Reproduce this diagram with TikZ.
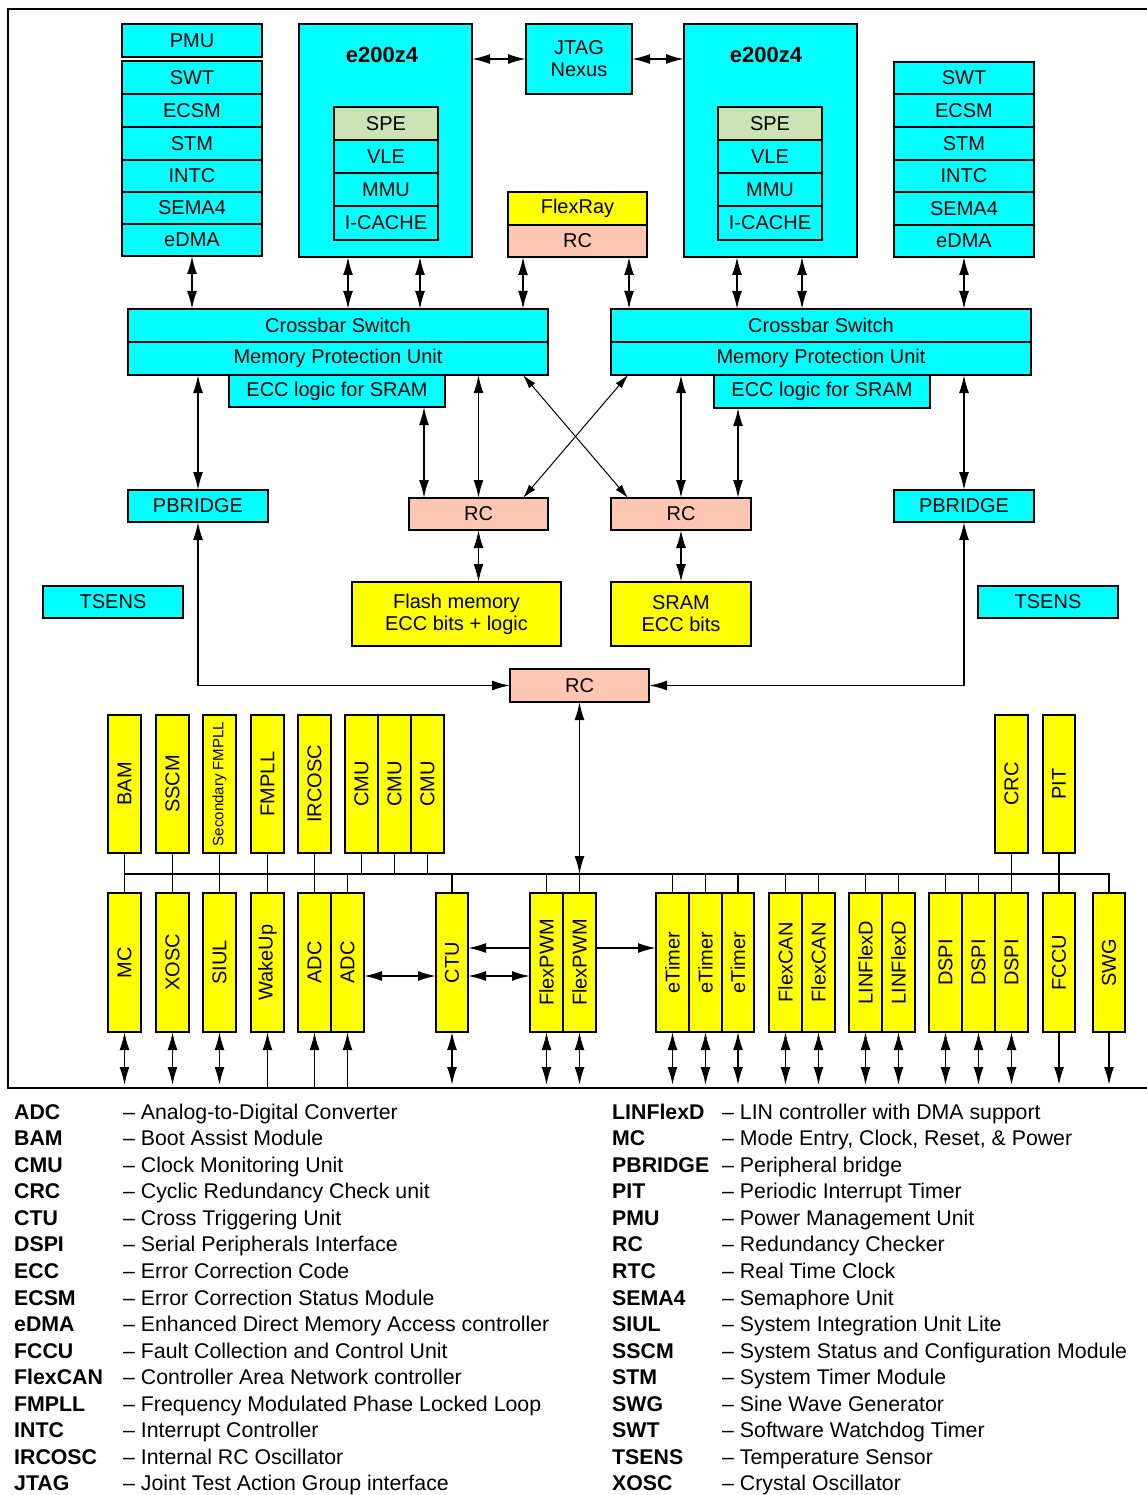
\documentclass[tikz,border=0pt]{standalone}
\usepackage{fontspec}
\setmainfont{Liberation Sans}
\usepackage{graphicx}
\usetikzlibrary{arrows.meta}
\definecolor{cyanc}{HTML}{00FFFF}
\definecolor{yel}{HTML}{FFFF00}
\definecolor{rcc}{HTML}{FFC6B2}
\definecolor{spe}{HTML}{CCE4B4}
\newcommand\modbox[7]{\node[box,fill=#2,minimum width={(#5)-(#3)},minimum height={(#6)-(#4)}] (#1) at ({((#3)+(#5))/2},{((#4)+(#6))/2}) {#7};}
\newcommand\rotmod[7]{\modbox{#1}{#2}{#3}{#4}{#5}{#6}{\rotatebox{90}{#7}}}
\begin{document}
\begin{tikzpicture}[x=1pt,y=-1pt,
  >={Latex[length=18pt,width=10pt]},
  box/.style={draw,line width=1.9pt,inner sep=0pt,outer sep=0pt,align=center,font=\fontsize{20}{23}\selectfont},
  dar/.style={<->,line width=1.7pt},
  sar/.style={->,line width=1.7pt},
  tar/.style={{Latex[length=14pt,width=8pt]}-{Latex[length=14pt,width=8pt]},line width=1pt},
  bus/.style={line width=1.7pt},
  title/.style={font=\bfseries\fontsize{22}{25}\selectfont},
  lab/.style={anchor=base west,inner sep=0pt,font=\bfseries\fontsize{21.3}{24}\selectfont},
  desc/.style={anchor=base west,inner sep=0pt,font=\fontsize{21.3}{24}\selectfont}]
\useasboundingbox (0,0) rectangle (1147,1495);
\draw[line width=2pt] (1147,9) -- (8,9) -- (8,1088) -- (1147,1088);
% helper x/y coordinates
\foreach \x in {348,420,424,523,628,629,737,738,802} \coordinate (c\x) at (\x,0);
\coordinate (bot) at (0,1085);
\coordinate (bot2) at (0,1087);
% top left stack
\modbox{pmu}{cyanc}{122}{24}{262}{57}{PMU}
\modbox{ls1}{cyanc}{122}{61}{262}{94}{SWT}
\modbox{ls2}{cyanc}{122}{94}{262}{127}{ECSM}
\modbox{ls3}{cyanc}{122}{127}{262}{160}{STM}
\modbox{ls4}{cyanc}{122}{160}{262}{192}{INTC}
\modbox{ls5}{cyanc}{122}{192}{262}{224}{SEMA4}
\modbox{ls6}{cyanc}{122}{224}{262}{256}{eDMA}
% core 1
\modbox{e1}{cyanc}{299}{24}{472}{257}{}
\node[title] (e1t) at (382,55) {e200z4};
\modbox{sp1}{spe}{334}{107}{438}{140}{SPE}
\modbox{vl1}{cyanc}{334}{140}{438}{173}{VLE}
\modbox{mm1}{cyanc}{334}{173}{438}{206}{MMU}
\modbox{ic1}{cyanc}{334}{206}{438}{240}{I-CACHE}
% JTAG
\modbox{jtag}{cyanc}{526}{24}{632}{94}{JTAG\\[-1pt]Nexus}
% core 2
\modbox{e2}{cyanc}{684}{24}{857}{257}{}
\node[title] (e2t) at (766,55) {e200z4};
\modbox{sp2}{spe}{718}{107}{822}{140}{SPE}
\modbox{vl2}{cyanc}{718}{140}{822}{173}{VLE}
\modbox{mm2}{cyanc}{718}{173}{822}{206}{MMU}
\modbox{ic2}{cyanc}{718}{206}{822}{240}{I-CACHE}
% right stack
\modbox{rs1}{cyanc}{894}{62}{1034}{94}{SWT}
\modbox{rs2}{cyanc}{894}{94}{1034}{127}{ECSM}
\modbox{rs3}{cyanc}{894}{127}{1034}{160}{STM}
\modbox{rs4}{cyanc}{894}{160}{1034}{192}{INTC}
\modbox{rs5}{cyanc}{894}{192}{1034}{225}{SEMA4}
\modbox{rs6}{cyanc}{894}{225}{1034}{257}{eDMA}
% FlexRay
\modbox{fr}{yel}{508}{192}{647}{225}{FlexRay}
\modbox{frc}{rcc}{508}{225}{647}{257}{RC}
% crossbars
\modbox{xb1}{cyanc}{128}{309}{548}{342}{Crossbar Switch}
\modbox{mpu1}{cyanc}{128}{342}{548}{375}{Memory Protection Unit}
\modbox{ecc1}{cyanc}{229}{375}{445}{407}{ECC logic for SRAM}
\modbox{xb2}{cyanc}{611}{309}{1031}{342}{Crossbar Switch}
\modbox{mpu2}{cyanc}{611}{342}{1031}{375}{Memory Protection Unit}
\modbox{ecc2}{cyanc}{714}{375}{930}{408}{ECC logic for SRAM}
% bridges, RCs, memories
\modbox{pb1}{cyanc}{128}{490}{268}{522}{PBRIDGE}
\modbox{pb2}{cyanc}{894}{490}{1034}{522}{PBRIDGE}
\modbox{rc1}{rcc}{409}{498}{548}{530}{RC}
\modbox{rc2}{rcc}{611}{498}{751}{530}{RC}
\modbox{flash}{yel}{352}{582}{561}{646}{Flash memory\\[-1pt]ECC bits + logic}
\modbox{sram}{yel}{611}{582}{751}{646}{SRAM\\[-1pt]ECC bits}
\modbox{ts1}{cyanc}{43}{586}{183}{618}{TSENS}
\modbox{ts2}{cyanc}{978}{586}{1118}{618}{TSENS}
\modbox{rc3}{rcc}{510}{669}{649}{702}{RC}
% top peripheral row
\rotmod{bam}{yel}{108}{715}{141}{853}{BAM}
\rotmod{sscm}{yel}{156}{715}{189}{853}{SSCM}
\modbox{sfm}{yel}{203}{715}{236}{853}{\rotatebox{90}{\fontsize{15}{18}\selectfont Secondary FMPLL}}
\rotmod{fmpll}{yel}{251}{715}{284}{853}{FMPLL}
\rotmod{irc}{yel}{298}{715}{331}{853}{IRCOSC}
\rotmod{cmu1}{yel}{345}{715}{378}{853}{CMU}
\rotmod{cmu2}{yel}{378}{715}{411}{853}{CMU}
\rotmod{cmu3}{yel}{411}{715}{444}{853}{CMU}
\rotmod{crc}{yel}{995}{715}{1028}{853}{CRC}
\rotmod{pit}{yel}{1043}{715}{1075}{853}{PIT}
% bottom peripheral row
\rotmod{mc}{yel}{108}{893}{141}{1032}{MC}
\rotmod{xosc}{yel}{156}{893}{189}{1032}{XOSC}
\rotmod{siul}{yel}{203}{893}{236}{1032}{SIUL}
\rotmod{wake}{yel}{251}{893}{284}{1032}{WakeUp}
\rotmod{adc1}{yel}{298}{893}{331}{1032}{ADC}
\rotmod{adc2}{yel}{331}{893}{364}{1032}{ADC}
\rotmod{ctu}{yel}{436}{893}{468}{1032}{CTU}
\rotmod{fpwm1}{yel}{530}{893}{563}{1032}{FlexPWM}
\rotmod{fpwm2}{yel}{563}{893}{596}{1032}{FlexPWM}
\rotmod{et1}{yel}{656}{893}{689}{1032}{eTimer}
\rotmod{et2}{yel}{689}{893}{722}{1032}{eTimer}
\rotmod{et3}{yel}{722}{893}{754}{1032}{eTimer}
\rotmod{fc1}{yel}{769}{893}{802}{1032}{FlexCAN}
\rotmod{fc2}{yel}{802}{893}{835}{1032}{FlexCAN}
\rotmod{lf1}{yel}{849}{893}{882}{1032}{LINFlexD}
\rotmod{lf2}{yel}{882}{893}{915}{1032}{LINFlexD}
\rotmod{ds1}{yel}{929}{893}{962}{1032}{DSPI}
\rotmod{ds2}{yel}{962}{893}{995}{1032}{DSPI}
\rotmod{ds3}{yel}{995}{893}{1028}{1032}{DSPI}
\rotmod{fccu}{yel}{1043}{893}{1075}{1032}{FCCU}
\rotmod{swg}{yel}{1093}{893}{1125}{1032}{SWG}
% upper arrows
\draw[dar] (e1.east |- jtag.west) -- (jtag.west);
\draw[dar] (jtag.east) -- (jtag.east -| e2.west);
\draw[dar] (ls6.south) -- (xb1.north -| ls6.south);
\draw[dar] (e1.south -| c348) -- (xb1.north -| c348);
\draw[dar] (e1.south -| c420) -- (xb1.north -| c420);
\draw[dar] (frc.south -| c523) -- (xb1.north -| c523);
\draw[dar] (frc.south -| c629) -- (xb2.north -| c629);
\draw[dar] (e2.south -| c737) -- (xb2.north -| c737);
\draw[dar] (e2.south -| c802) -- (xb2.north -| c802);
\draw[dar] (rs6.south) -- (xb2.north -| rs6.south);
% crossbar to bridges / RCs
\draw[dar] (mpu1.south -| pb1.north) -- (pb1.north);
\draw[dar] (mpu2.south -| pb2.north) -- (pb2.north);
\draw[dar] (ecc1.south -| c424) -- (rc1.north -| c424);
\draw[dar] (mpu1.south -| rc1.north) -- (rc1.north);
\draw[dar] (mpu2.south -| rc2.north) -- (rc2.north);
\draw[dar] (ecc2.south -| c738) -- (rc2.north -| c738);
\draw[tar] (mpu1.south -| c523) -- (rc2.north -| c628);
\draw[tar] (mpu2.south -| c628) -- (rc1.north -| c523);
\draw[dar] (rc1.south) -- (flash.north -| rc1.south);
\draw[dar] (rc2.south) -- (sram.north -| rc2.south);
\draw[dar] (pb1.south) |- (rc3.west);
\draw[dar] (pb2.south) |- (rc3.east);
% peripheral bus
\coordinate (busL) at (124.5,874);
\coordinate (busR) at (1109,874);
\draw[bus] (busL) -- (busR) -- (swg.north);
\draw[bus] (bam.south) -- (mc.north);
\draw[bus] (sscm.south) -- (xosc.north);
\draw[bus] (sfm.south) -- (siul.north);
\draw[bus] (fmpll.south) -- (wake.north);
\draw[bus] (irc.south) -- (adc1.north);
\draw[bus] (crc.south) -- (ds3.north);
\draw[bus] (pit.south) -- (fccu.north);
\foreach \n in {cmu1,cmu2,cmu3} \draw[bus] (\n.south) -- (\n.south |- busL);
\foreach \n in {adc2,ctu,fpwm1,fpwm2,et1,et2,et3,fc1,fc2,lf1,lf2,ds1,ds2} \draw[bus] (\n.north) -- (\n.north |- busL);
\draw[dar] (rc3.south) -- (rc3.south |- busL);
% horizontal peripheral arrows
\draw[dar] ([yshift=-13.5pt]adc2.east) -- ([yshift=-13.5pt]ctu.west);
\draw[dar] ([yshift=-13.5pt]ctu.east) -- ([yshift=-13.5pt]fpwm1.west);
\draw[sar] ([yshift=14.5pt]fpwm1.west) -- ([yshift=14.5pt]ctu.east);
\draw[sar] ([yshift=14.5pt]fpwm2.east) -- ([yshift=14.5pt]et1.west);
% pins
\foreach \n in {mc,xosc,siul,ctu,fpwm1,fpwm2,et1,et2,et3,fc1,fc2,lf1,lf2,ds1,ds2,ds3} \draw[dar] (\n.south) -- (\n.south |- bot);
\foreach \n in {wake,adc1,adc2} \draw[sar] (\n.south |- bot2) -- (\n.south);
\foreach \n in {fccu,swg} \draw[sar] (\n.south) -- (\n.south |- bot);
% legend
\foreach \a/\d [count=\i from 0] in {ADC/Analog-to-Digital Converter, BAM/Boot Assist Module, CMU/Clock Monitoring Unit, CRC/Cyclic Redundancy Check unit, CTU/Cross Triggering Unit, DSPI/Serial Peripherals Interface, ECC/Error Correction Code, ECSM/Error Correction Status Module, eDMA/Enhanced Direct Memory Access controller, FCCU/Fault Collection and Control Unit, FlexCAN/Controller Area Network controller, FMPLL/Frequency Modulated Phase Locked Loop, INTC/Interrupt Controller, IRCOSC/Internal RC Oscillator, JTAG/Joint Test Action Group interface}{
  \node[lab] (la\i) at (14,{1119+26.57*\i}) {\a};
  \node[desc] (ld\i) at (123,{1119+26.57*\i}) {– \d};
}
\foreach \a/\d [count=\i from 0] in {LINFlexD/LIN controller with DMA support, MC/{Mode Entry, Clock, Reset, \& Power}, PBRIDGE/Peripheral bridge, PIT/Periodic Interrupt Timer, PMU/Power Management Unit, RC/Redundancy Checker, RTC/Real Time Clock, SEMA4/Semaphore Unit, SIUL/System Integration Unit Lite, SSCM/System Status and Configuration Module, STM/System Timer Module, SWG/Sine Wave Generator, SWT/Software Watchdog Timer, TSENS/Temperature Sensor, XOSC/Crystal Oscillator}{
  \node[lab] (ra\i) at (612,{1119+26.57*\i}) {\a};
  \node[desc] (rd\i) at (722,{1119+26.57*\i}) {– \d};
}
\end{tikzpicture}
\end{document}
